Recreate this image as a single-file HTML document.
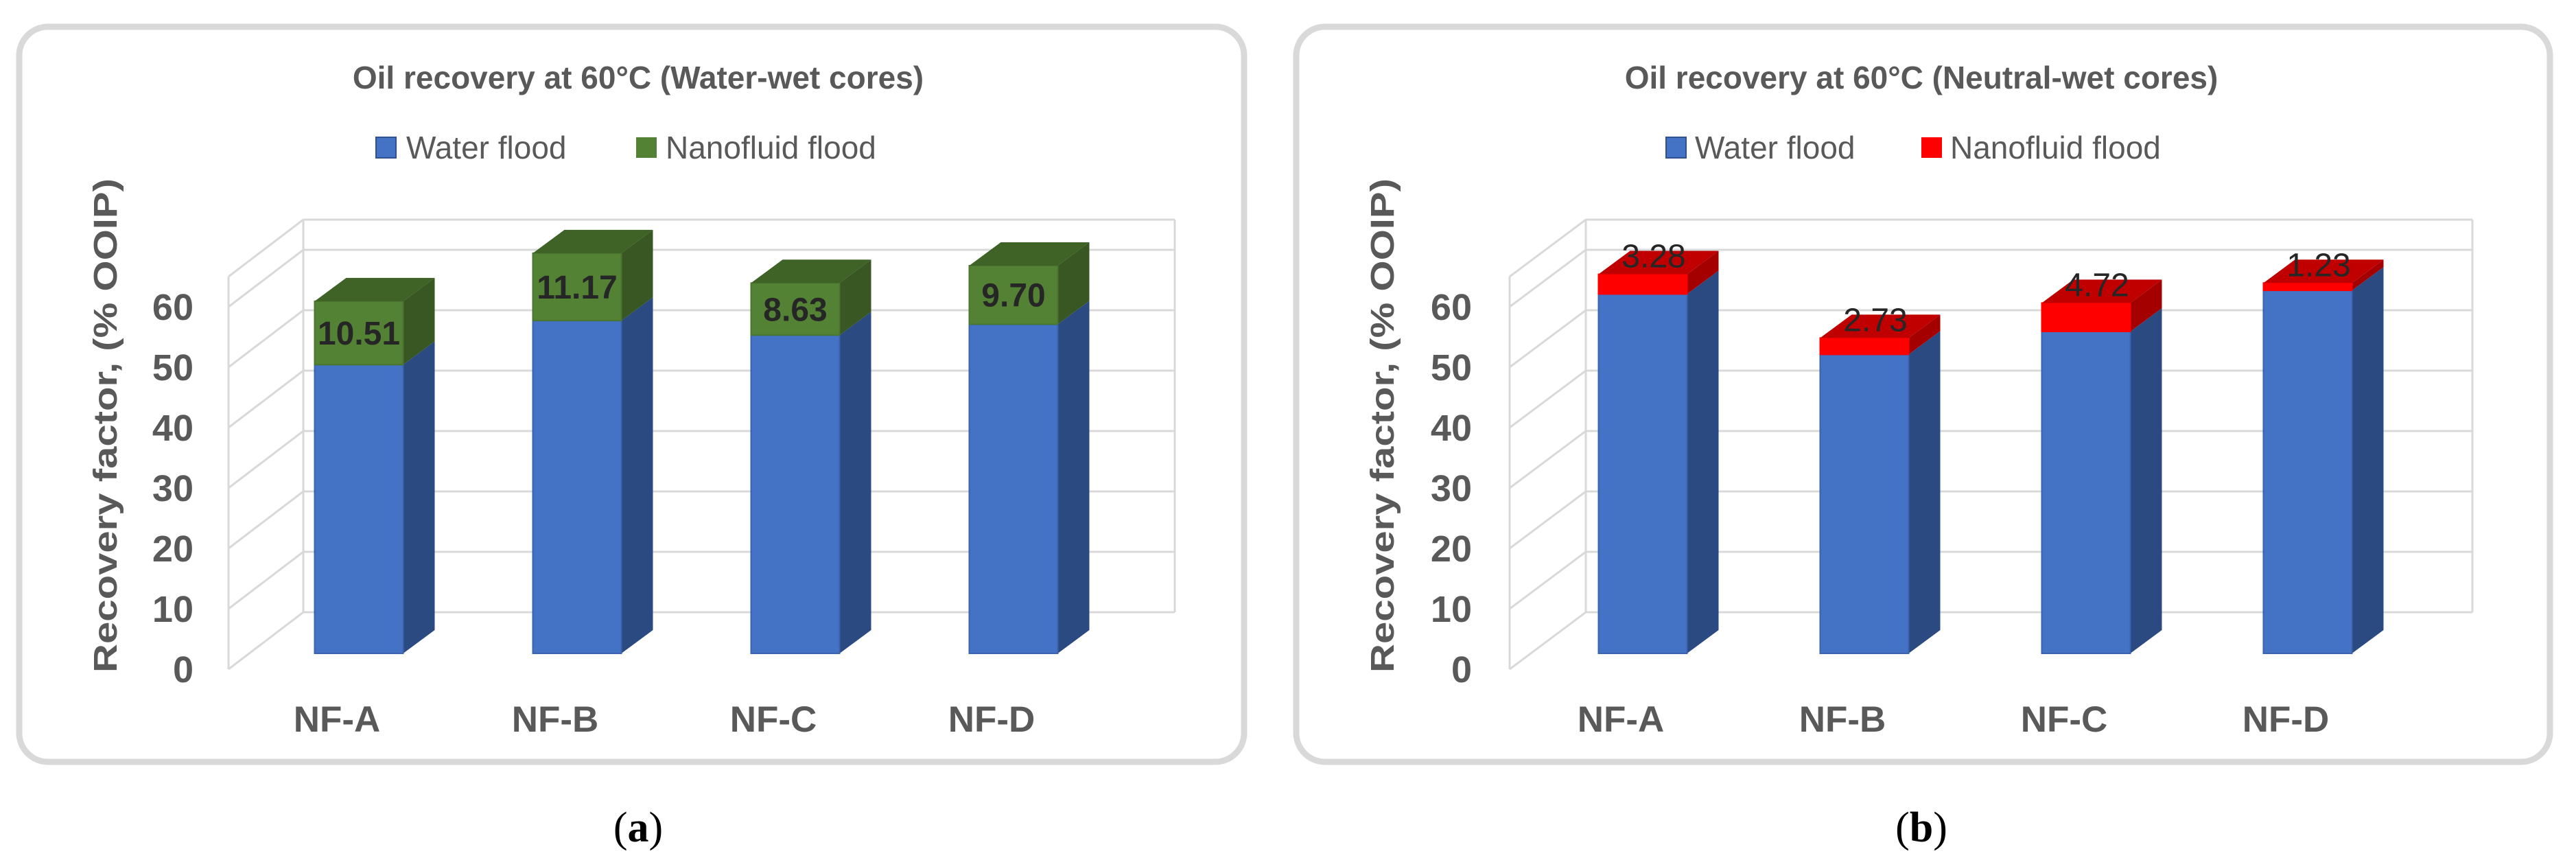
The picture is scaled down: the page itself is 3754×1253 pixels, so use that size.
<!DOCTYPE html>
<html><head><meta charset="utf-8"><style>
html,body{margin:0;padding:0;background:#fff;}
svg{display:block;}
text{font-family:"Liberation Sans",Arial,sans-serif;}
</style></head><body>
<svg id="fig" width="3754" height="1253" viewBox="0 0 3754 1253" xmlns="http://www.w3.org/2000/svg">
<rect x="28" y="39" width="1785" height="1071" rx="42" fill="#fff" stroke="#d9d9d9" stroke-width="9"/>
<rect x="1889" y="39" width="1827" height="1071" rx="42" fill="#fff" stroke="#d9d9d9" stroke-width="9"/>
<text x="930" y="129" text-anchor="middle" font-size="46" font-weight="bold" fill="#595959">Oil recovery at 60°C (Water-wet cores)</text>
<text x="2800" y="129" text-anchor="middle" font-size="46" font-weight="bold" fill="#595959">Oil recovery at 60°C (Neutral-wet cores)</text>
<g>
<rect x="548" y="200" width="29" height="30" fill="#4472c4" stroke="#2f528f" stroke-width="2"/>
<text x="592" y="231" font-size="46" fill="#595959">Water flood</text>
<rect x="927" y="200" width="30" height="30" fill="#548235"/>
<text x="970" y="231" font-size="46" fill="#595959">Nanofluid flood</text>
</g>
<g>
<rect x="2428" y="200" width="29" height="30" fill="#4472c4" stroke="#2f528f" stroke-width="2"/>
<text x="2470" y="231" font-size="46" fill="#595959">Water flood</text>
<rect x="2800" y="200" width="30" height="30" fill="#ff0000"/>
<text x="2842" y="231" font-size="46" fill="#595959">Nanofluid flood</text>
</g>
<text transform="translate(170,620) rotate(-90)" text-anchor="middle" font-size="48" font-weight="bold" fill="#595959" textLength="720" lengthAdjust="spacingAndGlyphs">Recovery factor, (%  OOIP)</text>
<text transform="translate(2031,620) rotate(-90)" text-anchor="middle" font-size="48" font-weight="bold" fill="#595959" textLength="720" lengthAdjust="spacingAndGlyphs">Recovery factor, (%  OOIP)</text>
<text x="930" y="1226" text-anchor="middle" font-size="62" fill="#000" style="font-family:'Liberation Serif',serif">(<tspan font-weight="bold">a</tspan>)</text>
<text x="2800" y="1226" text-anchor="middle" font-size="62" fill="#000" style="font-family:'Liberation Serif',serif">(<tspan font-weight="bold">b</tspan>)</text>
<g id="pa"></g>
<g id="pb"></g>
</svg>
<script>
const categories = ["NF-A", "NF-B", "NF-C", "NF-D"];
const tickValues = [0, 10, 20, 30, 40, 50, 60];
const tickLabels = ["0", "10", "20", "30", "40", "50", "60"];
const waterA = [47.8, 55.1, 52.7, 54.5];
const nanoA = [10.51, 11.17, 8.63, 9.70];
const nanoLabelsA = ["10.51", "11.17", "8.63", "9.70"];
const waterB = [59.5, 49.5, 53.3, 60.1];
const nanoB = [3.28, 2.73, 4.72, 1.23];
const nanoLabelsB = ["3.28", "2.73", "4.72", "1.23"];

const NS = "http://www.w3.org/2000/svg";
function mk(parent, tag, attrs) {
  const e = document.createElementNS(NS, tag);
  for (const k in attrs) e.setAttribute(k, attrs[k]);
  parent.appendChild(e);
  return e;
}
const S = 8.8;          // px per unit
const yMax = 65;
function yFront(v) { return 975 - v * S; }
function yBack(v) { return 892 - v * S; }
function yBar(v) { return 952 - v * S; }

function drawPanel(g, p, water, nano, labels, colors, inside) {
  const xBar = i => p.firstBar + i * p.step;
  // gridlines
  const gv = tickValues.concat([yMax]);
  gv.forEach(v => {
    const l1 = mk(g, "line", {x1: p.backLeft, y1: yBack(v), x2: p.backRight, y2: yBack(v), stroke: "#d9d9d9", "stroke-width": 3});
    
    
    const l2 = mk(g, "line", {x1: p.frontLeft, y1: yFront(v), x2: p.backLeft, y2: yBack(v), stroke: "#d9d9d9", "stroke-width": 3});
    
    
  });
  [[p.backLeft, yBack(0), p.backLeft, yBack(yMax)], [p.backRight, yBack(0), p.backRight, yBack(yMax)], [p.frontLeft, yFront(0), p.frontLeft, yFront(yMax)]].forEach(c => {
    const l = mk(g, "line", {x1: c[0], y1: c[1], x2: c[2], y2: c[3], stroke: "#d9d9d9", "stroke-width": 3});
    
    
  });
  // ticks
  tickValues.forEach((v, i) => {
    const t = mk(g, "text", {x: p.tickRight, y: yFront(v) + 19, "text-anchor": "end", "font-size": 54, "font-weight": "bold", fill: "#595959"});
    
    
    t.textContent = tickLabels[i];
  });
  const W = 129, DX = 46, DY = 34;
  categories.forEach((c, i) => {
    const cx = xBar(i), x0 = cx - W / 2, x1 = cx + W / 2;
    const segs = [[0, water[i], colors.water], [water[i], water[i] + nano[i], colors.nano]];
    segs.forEach((s, si) => {
      const yt = yBar(s[1]), yb = yBar(s[0]);
      const side = mk(g, "polygon", {points: `${x1},${yb} ${x1+DX},${yb-DY} ${x1+DX},${yt-DY} ${x1},${yt}`, fill: s[2][1]});
      
      
      const f = mk(g, "rect", {x: x0, y: yt, width: W, height: yb - yt, fill: s[2][0], stroke: s[2][3], "stroke-width": 2});
      
      
      if (si === 1) {
        const top = mk(g, "polygon", {points: `${x0},${yt} ${x0+DX},${yt-DY} ${x1+DX},${yt-DY} ${x1},${yt}`, fill: s[2][2]});
        
        
      }
    });
    const ytop = yBar(water[i] + nano[i]), ymid = yBar(water[i]);
    let lbl;
    if (inside) {
      lbl = mk(g, "text", {x: cx, y: (ytop + ymid) / 2 + 17, "text-anchor": "middle", "font-size": 48, "font-weight": "bold", fill: "#262626"});
    } else {
      lbl = mk(g, "text", {x: cx + 16, y: ytop - 10, "text-anchor": "middle", "font-size": 48, fill: "#262626"});
    }
    
    
    lbl.textContent = labels[i];
    const ct = mk(g, "text", {x: cx - 32, y: 1066, "text-anchor": "middle", "font-size": 53, "font-weight": "bold", fill: "#595959"});
    
    
    ct.textContent = c;
  });
}
const blue = ["#4472c4", "#2b4a82"];
drawPanel(document.getElementById("pa"),
  {backLeft: 442, backRight: 1712, frontLeft: 333, tickRight: 282, firstBar: 523, step: 318},
  waterA, nanoA, nanoLabelsA,
  {water: [blue[0], blue[1], blue[0], "#3a64b0"], nano: ["#548235", "#385723", "#3f6227", "#4a7530"]}, true);
drawPanel(document.getElementById("pb"),
  {backLeft: 2311, backRight: 3603, frontLeft: 2200, tickRight: 2145, firstBar: 2394, step: 323},
  waterB, nanoB, nanoLabelsB,
  {water: [blue[0], blue[1], blue[0], "#3a64b0"], nano: ["#ff0000", "#a50000", "#c00000", "#ff0000"]}, false);
</script>
</body></html>
